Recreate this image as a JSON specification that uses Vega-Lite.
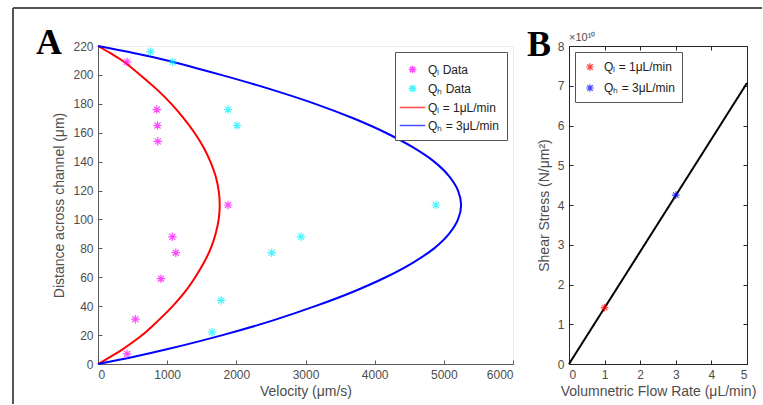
{
  "$schema": "https://vega.github.io/schema/vega-lite/v6.json",
  "padding": {"left": 11, "top": 6, "right": 0, "bottom": 0},
  "autosize": {"type": "pad"},
  "bounds": "flush",
  "spacing": 56,
  "background": "white",
  "datasets": {
    "profile": [
      {"series": "Qₗ = 1μL/min", "distance": 0, "velocity": 0},
      {"series": "Qₗ = 1μL/min", "distance": 5, "velocity": 180},
      {"series": "Qₗ = 1μL/min", "distance": 10, "velocity": 350},
      {"series": "Qₗ = 1μL/min", "distance": 20, "velocity": 640},
      {"series": "Qₗ = 1μL/min", "distance": 30, "velocity": 870},
      {"series": "Qₗ = 1μL/min", "distance": 40, "velocity": 1080},
      {"series": "Qₗ = 1μL/min", "distance": 50, "velocity": 1260},
      {"series": "Qₗ = 1μL/min", "distance": 60, "velocity": 1405},
      {"series": "Qₗ = 1μL/min", "distance": 70, "velocity": 1530},
      {"series": "Qₗ = 1μL/min", "distance": 80, "velocity": 1630},
      {"series": "Qₗ = 1μL/min", "distance": 90, "velocity": 1700},
      {"series": "Qₗ = 1μL/min", "distance": 100, "velocity": 1745},
      {"series": "Qₗ = 1μL/min", "distance": 110, "velocity": 1760},
      {"series": "Qₗ = 1μL/min", "distance": 120, "velocity": 1745},
      {"series": "Qₗ = 1μL/min", "distance": 130, "velocity": 1700},
      {"series": "Qₗ = 1μL/min", "distance": 140, "velocity": 1625},
      {"series": "Qₗ = 1μL/min", "distance": 150, "velocity": 1525},
      {"series": "Qₗ = 1μL/min", "distance": 160, "velocity": 1395},
      {"series": "Qₗ = 1μL/min", "distance": 170, "velocity": 1240},
      {"series": "Qₗ = 1μL/min", "distance": 180, "velocity": 1060},
      {"series": "Qₗ = 1μL/min", "distance": 190, "velocity": 850},
      {"series": "Qₗ = 1μL/min", "distance": 200, "velocity": 610},
      {"series": "Qₗ = 1μL/min", "distance": 210, "velocity": 350},
      {"series": "Qₗ = 1μL/min", "distance": 215, "velocity": 180},
      {"series": "Qₗ = 1μL/min", "distance": 220, "velocity": 0},
      {"series": "Qₕ = 3μL/min", "distance": 0, "velocity": 0},
      {"series": "Qₕ = 3μL/min", "distance": 5, "velocity": 520},
      {"series": "Qₕ = 3μL/min", "distance": 10, "velocity": 980},
      {"series": "Qₕ = 3μL/min", "distance": 20, "velocity": 1800},
      {"series": "Qₕ = 3μL/min", "distance": 30, "velocity": 2520},
      {"series": "Qₕ = 3μL/min", "distance": 40, "velocity": 3140},
      {"series": "Qₕ = 3μL/min", "distance": 50, "velocity": 3690},
      {"series": "Qₕ = 3μL/min", "distance": 60, "velocity": 4160},
      {"series": "Qₕ = 3μL/min", "distance": 70, "velocity": 4550},
      {"series": "Qₕ = 3μL/min", "distance": 80, "velocity": 4860},
      {"series": "Qₕ = 3μL/min", "distance": 90, "velocity": 5075},
      {"series": "Qₕ = 3μL/min", "distance": 100, "velocity": 5205},
      {"series": "Qₕ = 3μL/min", "distance": 110, "velocity": 5250},
      {"series": "Qₕ = 3μL/min", "distance": 120, "velocity": 5205},
      {"series": "Qₕ = 3μL/min", "distance": 130, "velocity": 5075},
      {"series": "Qₕ = 3μL/min", "distance": 140, "velocity": 4860},
      {"series": "Qₕ = 3μL/min", "distance": 150, "velocity": 4550},
      {"series": "Qₕ = 3μL/min", "distance": 160, "velocity": 4160},
      {"series": "Qₕ = 3μL/min", "distance": 170, "velocity": 3690},
      {"series": "Qₕ = 3μL/min", "distance": 180, "velocity": 3140},
      {"series": "Qₕ = 3μL/min", "distance": 190, "velocity": 2500},
      {"series": "Qₕ = 3μL/min", "distance": 200, "velocity": 1780},
      {"series": "Qₕ = 3μL/min", "distance": 210, "velocity": 1000},
      {"series": "Qₕ = 3μL/min", "distance": 215, "velocity": 530},
      {"series": "Qₕ = 3μL/min", "distance": 220, "velocity": 0}
    ],
    "measured": [
      {"series": "Qₗ Data", "velocity": 420, "distance": 209},
      {"series": "Qₗ Data", "velocity": 850, "distance": 176},
      {"series": "Qₗ Data", "velocity": 860, "distance": 165},
      {"series": "Qₗ Data", "velocity": 865, "distance": 154},
      {"series": "Qₗ Data", "velocity": 1880, "distance": 110},
      {"series": "Qₗ Data", "velocity": 1075, "distance": 88},
      {"series": "Qₗ Data", "velocity": 1125, "distance": 77},
      {"series": "Qₗ Data", "velocity": 910, "distance": 59},
      {"series": "Qₗ Data", "velocity": 540, "distance": 31},
      {"series": "Qₗ Data", "velocity": 420, "distance": 7},
      {"series": "Qₕ Data", "velocity": 760, "distance": 216},
      {"series": "Qₕ Data", "velocity": 1080, "distance": 209},
      {"series": "Qₕ Data", "velocity": 1880, "distance": 176},
      {"series": "Qₕ Data", "velocity": 2010, "distance": 165},
      {"series": "Qₕ Data", "velocity": 4885, "distance": 110},
      {"series": "Qₕ Data", "velocity": 2935, "distance": 88},
      {"series": "Qₕ Data", "velocity": 2510, "distance": 77},
      {"series": "Qₕ Data", "velocity": 1780, "distance": 44},
      {"series": "Qₕ Data", "velocity": 1650, "distance": 22}
    ],
    "shearFit": [
      {"flow": 0, "stress": 0},
      {"flow": 5, "stress": 70700000000}
    ],
    "shearPoints": [
      {"series": "Qₗ = 1μL/min", "flow": 1, "stress": 14200000000},
      {"series": "Qₕ = 3μL/min", "flow": 3, "stress": 42500000000}
    ]
  },
  "config": {
    "font": "Liberation Sans",
    "view": {"stroke": null},
    "axis": {
      "labelFont": "Liberation Sans",
      "labelFontSize": 12,
      "labelColor": "#4d4d4d",
      "labelOverlap": false,
      "titleFont": "Liberation Sans",
      "titleFontSize": 14,
      "titleFontWeight": "normal",
      "titleColor": "#4d4d4d",
      "grid": false,
      "tickSize": -4,
      "labelPadding": 9,
      "domainColor": "#5a5a5a",
      "tickColor": "#5a5a5a",
      "domainWidth": 1,
      "tickWidth": 1
    },
    "legend": {
      "title": null,
      "labelFont": "Liberation Sans",
      "labelFontSize": 12,
      "labelColor": "#222222",
      "strokeColor": "#555555",
      "fillColor": "white",
      "padding": 8,
      "rowPadding": 2,
      "labelOffset": 6
    },
    "title": {
      "font": "Liberation Serif",
      "fontSize": 36,
      "fontWeight": "bold",
      "color": "black",
      "anchor": "start",
      "frame": "group"
    }
  },
  "resolve": {"scale": {"color": "independent", "shape": "independent"}},
  "hconcat": [
    {
      "width": 415,
      "height": 318,
      "title": {"text": "A", "dx": -62, "dy": 87, "baseline": "alphabetic"},
      "view": {"stroke": "#eeeeee"},
      "layer": [
        {
          "data": {"name": "profile"},
          "mark": {"type": "line", "strokeWidth": 2, "interpolate": "catmull-rom"},
          "encoding": {
            "x": {
              "field": "velocity", "type": "quantitative",
              "scale": {"domain": [0, 6000]},
              "axis": {"title": "Velocity (μm/s)", "format": "d", "values": [0, 1000, 2000, 3000, 4000, 5000, 6000], "titlePadding": 4}
            },
            "y": {
              "field": "distance", "type": "quantitative",
              "scale": {"domain": [0, 220]},
              "axis": {"title": "Distance across channel (μm)", "format": "d", "values": [0, 20, 40, 60, 80, 100, 120, 140, 160, 180, 200, 220], "titlePadding": 6}
            },
            "order": {"field": "distance", "type": "quantitative"},
            "color": {
              "field": "series", "type": "nominal",
              "scale": {
                "domain": ["Qₗ Data", "Qₕ Data", "Qₗ = 1μL/min", "Qₕ = 3μL/min"],
                "range": ["#ff00ff", "#00f0ff", "#ff0000", "#0000ff"]
              },
              "legend": {
                "orient": "top-right",
                "offset": 6,
                "symbolSize": 289,
                "symbolStrokeWidth": 1.5
              }
            }
          }
        },
        {
          "data": {"values": [{}]},
          "mark": {"type": "rule", "color": "#555555", "strokeWidth": 2},
          "encoding": {
            "x": {"datum": -1229, "type": "quantitative", "axis": {"title": "Velocity (μm/s)", "format": "d", "values": [0, 1000, 2000, 3000, 4000, 5000, 6000], "titlePadding": 4}},
            "x2": {"datum": 9600},
            "y": {"datum": 246.3, "type": "quantitative", "axis": {"title": "Distance across channel (μm)", "format": "d", "values": [0, 20, 40, 60, 80, 100, 120, 140, 160, 180, 200, 220], "titlePadding": 6}}
          }
        },
        {
          "data": {"values": [{}]},
          "mark": {"type": "rule", "color": "#555555", "strokeWidth": 2},
          "encoding": {
            "x": {"datum": -1229, "type": "quantitative", "axis": {"title": "Velocity (μm/s)", "format": "d", "values": [0, 1000, 2000, 3000, 4000, 5000, 6000], "titlePadding": 4}},
            "y": {"datum": 246.3, "type": "quantitative", "axis": {"title": "Distance across channel (μm)", "format": "d", "values": [0, 20, 40, 60, 80, 100, 120, 140, 160, 180, 200, 220], "titlePadding": 6}},
            "y2": {"datum": -27.7}
          }
        },
        {
          "data": {"name": "measured"},
          "mark": {"type": "point", "filled": false, "size": 361, "strokeWidth": 1.2},
          "encoding": {
            "x": {"field": "velocity", "type": "quantitative", "axis": {"title": "Velocity (μm/s)", "format": "d", "values": [0, 1000, 2000, 3000, 4000, 5000, 6000], "titlePadding": 4}},
            "y": {"field": "distance", "type": "quantitative", "axis": {"title": "Distance across channel (μm)", "format": "d", "values": [0, 20, 40, 60, 80, 100, 120, 140, 160, 180, 200, 220], "titlePadding": 6}},
            "color": {"field": "series", "type": "nominal"},
            "shape": {
              "field": "series", "type": "nominal",
              "scale": {
                "domain": ["Qₗ Data", "Qₕ Data", "Qₗ = 1μL/min", "Qₕ = 3μL/min"],
                "range": [
                  "M-0.45,0H0.45M0,-0.45V0.45M-0.32,-0.32L0.32,0.32M-0.32,0.32L0.32,-0.32",
                  "M-0.45,0H0.45M0,-0.45V0.45M-0.32,-0.32L0.32,0.32M-0.32,0.32L0.32,-0.32",
                  "M-1.5,0H1.5",
                  "M-1.5,0H1.5"
                ]
              }
            }
          }
        }
      ]
    },
    {
      "width": 178,
      "height": 318,
      "title": {"text": "B", "dx": -42, "dy": 64, "baseline": "alphabetic"},
      "view": {"stroke": "#262626"},
      "layer": [
        {
          "data": {"name": "shearFit"},
          "mark": {"type": "line", "color": "black", "strokeWidth": 2},
          "encoding": {
            "x": {
              "field": "flow", "type": "quantitative",
              "scale": {"domain": [0, 5]},
              "axis": {"title": "Volumnetric Flow Rate (μL/min)", "values": [0, 1, 2, 3, 4, 5], "titlePadding": 4, "domainColor": "#262626", "tickColor": "#262626"}
            },
            "y": {
              "field": "stress", "type": "quantitative",
              "scale": {"domain": [0, 80000000000]},
              "axis": {
                "title": "Shear Stress (N/μm²)",
                "values": [0, 10000000000, 20000000000, 30000000000, 40000000000, 50000000000, 60000000000, 70000000000, 80000000000],
                "labelExpr": "format(datum.value / 10000000000, 'd')",
                "titlePadding": 6,
                "domainColor": "#262626", "tickColor": "#262626"
              }
            }
          }
        },
        {
          "data": {"name": "shearPoints"},
          "mark": {"type": "point", "filled": false, "size": 196, "strokeWidth": 1.2},
          "encoding": {
            "x": {
              "field": "flow", "type": "quantitative",
              "axis": {"orient": "top", "labels": false, "title": null, "values": [0, 1, 2, 3, 4, 5], "domain": false, "tickColor": "#262626"}
            },
            "y": {
              "field": "stress", "type": "quantitative",
              "axis": {"orient": "right", "labels": false, "title": null, "values": [0, 10000000000, 20000000000, 30000000000, 40000000000, 50000000000, 60000000000, 70000000000, 80000000000], "domain": false, "tickColor": "#262626"}
            },
            "color": {
              "field": "series", "type": "nominal",
              "scale": {"domain": ["Qₗ = 1μL/min", "Qₕ = 3μL/min"], "range": ["#ff0000", "#0000ff"]},
              "legend": {"orient": "top-left", "offset": 6, "symbolSize": 196, "symbolStrokeWidth": 1.2, "rowPadding": 6, "padding": 7}
            },
            "shape": {
              "field": "series", "type": "nominal",
              "scale": {
                "domain": ["Qₗ = 1μL/min", "Qₕ = 3μL/min"],
                "range": [
                  "M-0.55,0H0.55M0,-0.55V0.55M-0.39,-0.39L0.39,0.39M-0.39,0.39L0.39,-0.39",
                  "M-0.55,0H0.55M0,-0.55V0.55M-0.39,-0.39L0.39,0.39M-0.39,0.39L0.39,-0.39"
                ]
              }
            }
          }
        },
        {
          "data": {"values": [{}]},
          "mark": {"type": "text", "text": "×10¹⁰", "align": "left", "baseline": "bottom", "dy": -3, "fontSize": 11, "color": "#4d4d4d", "font": "Liberation Sans"},
          "encoding": {
            "x": {"datum": 0, "type": "quantitative", "axis": null},
            "y": {"datum": 80000000000, "type": "quantitative", "axis": null}
          }
        }
      ],
      "resolve": {"axis": {"x": "independent", "y": "independent"}}
    }
  ]
}
